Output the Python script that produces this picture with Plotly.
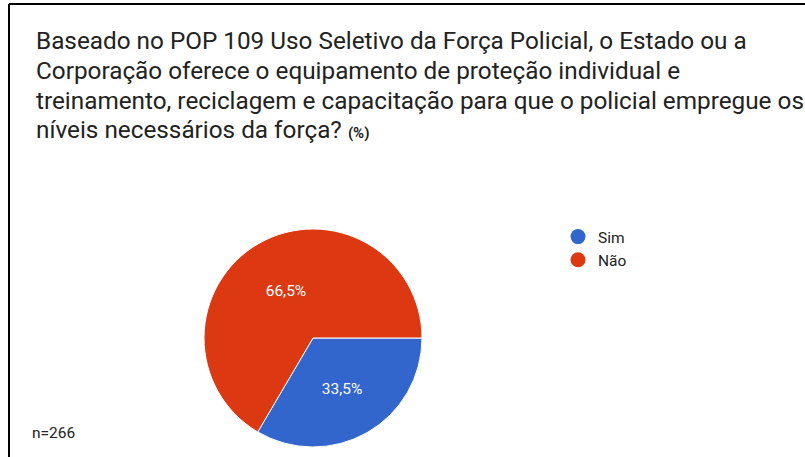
import plotly.graph_objects as go

labels = ["Sim", "Não"]
counts = [89, 177]
colors = ["#3366CC", "#DC3912"]
n_total = 266

title_lines = [
    "Baseado no POP 109 Uso Seletivo da Força Policial, o Estado ou a",
    "Corporação oferece o equipamento de proteção individual e",
    "treinamento, reciclagem e capacitação para que o policial empregue os",
    "níveis necessários da força? <span style='font-size:15px'><b>(%)</b></span>",
]

W, H = 805, 457

fig = go.Figure()
fig.add_trace(go.Pie(
    labels=labels,
    values=counts,
    marker=dict(colors=colors, line=dict(color="white", width=1)),
    sort=False,
    direction="clockwise",
    rotation=90,
    textinfo="percent",
    texttemplate="%{percent:.1%}",
    textposition="inside",
    insidetextfont=dict(color="white", size=15.5, family="Roboto, Arial"),
    showlegend=False,
    domain=dict(x=[204 / W, 422 / W], y=[10 / H, 228 / H]),
))

# legend entries with round markers
for lab, col in zip(labels, colors):
    fig.add_trace(go.Scatter(
        x=[None], y=[None], mode="markers", name=lab,
        marker=dict(color=col, size=15, symbol="circle"),
    ))

# title, one annotation per line
for i, line in enumerate(title_lines):
    fig.add_annotation(
        text=line, x=34 / W, y=1 - (40 + 30 * i) / H,
        xref="paper", yref="paper", xanchor="left", yanchor="middle",
        showarrow=False, font=dict(size=24.3, color="#222222", family="Roboto, Arial"),
    )

fig.add_annotation(
    text=f"n={n_total}", x=30 / W, y=1 - 433 / H,
    xref="paper", yref="paper", xanchor="left", yanchor="middle",
    showarrow=False, font=dict(size=15.5, color="#222222", family="Roboto, Arial"),
)

# frame
fig.add_shape(type="line", xref="paper", yref="paper",
              x0=9 / W, x1=9 / W, y0=-0.05, y1=1 - 4 / H,
              line=dict(color="black", width=2))
fig.add_shape(type="line", xref="paper", yref="paper",
              x0=9 / W, x1=1.05, y0=1 - 4 / H, y1=1 - 4 / H,
              line=dict(color="black", width=2))

fig.update_layout(
    width=W, height=H,
    margin=dict(l=0, r=0, t=0, b=0),
    paper_bgcolor="white", plot_bgcolor="white",
    separators=",.",
    xaxis=dict(visible=False), yaxis=dict(visible=False),
    legend=dict(x=558 / W, y=1 - 220 / H, xanchor="left", yanchor="top",
                font=dict(size=15.5, color="#222222", family="Roboto, Arial"),
                bgcolor="rgba(0,0,0,0)"),
)

fig.write_html("out.html", config={"displayModeBar": False},
               post_script="document.body.style.margin='0';")
